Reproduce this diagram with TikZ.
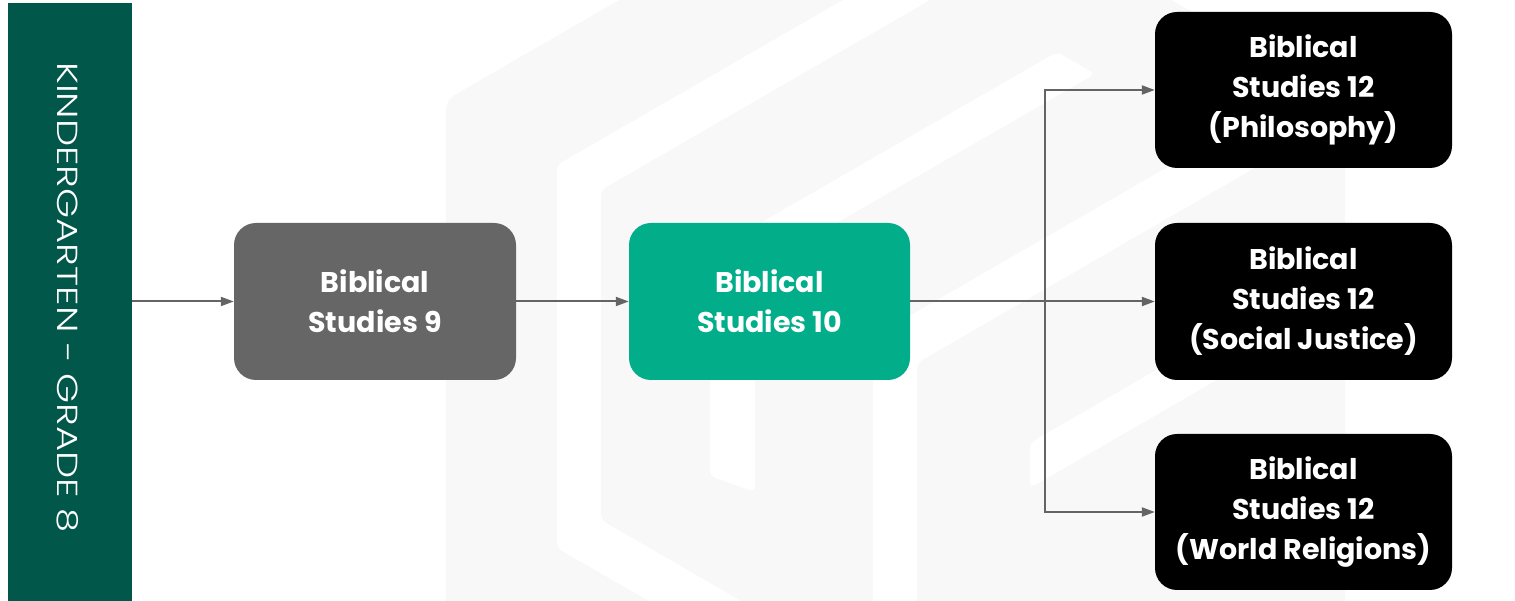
\documentclass[tikz,border=0pt]{standalone}
\usepackage{fontspec}
\setmainfont{Poppins}
\newfontfamily\boxfont{Poppins Bold}
\newfontfamily\lightfont{Poppins Light}
\usetikzlibrary{arrows.meta}
\definecolor{barteal}{RGB}{0,87,74}
\definecolor{boxgreen}{RGB}{2,173,138}
\definecolor{boxgray}{RGB}{102,102,102}
\definecolor{linegray}{RGB}{100,100,100}
\definecolor{wm}{RGB}{248,248,248}
\begin{document}
\begin{tikzpicture}[x=1pt,y=1pt,
  box/.style={rounded corners=22pt, text=white, align=center, minimum height=157pt,
    inner sep=0pt, font=\boxfont\fontsize{28.5}{40}\selectfont},
  arr/.style={draw=linegray, line width=2pt, -{Triangle[length=13pt,width=9pt]}},
  conn/.style={draw=linegray, line width=2pt},
  band/.style={fill=white, rounded corners=6pt}]
\useasboundingbox (0,0) rectangle (1515,601);
\fill[white] (0,0) rectangle (1515,601);
% faint watermark
\begin{scope}
  \clip (0,0) rectangle (1515,601);
  \begin{scope}[shift={(0,601)}, yscale=-1]
    \fill[wm, rounded corners=10pt] (446,700) -- (446,100) -- (895,-159) -- (1345,100) -- (1345,700) -- cycle;
    \begin{scope}
      \clip (446,700) -- (446,100) -- (895,-159) -- (1345,100) -- (1345,700) -- cycle;
      \fill[band] (895,-30) -- (557,165) -- (557,548) -- (701,631) -- (793,631) -- (601,520) -- (601,190) -- (982,-30) -- cycle;
      \fill[band] (710,476) -- (710,252) -- (1057,52) -- (1095,74) -- (755,270) -- (755,492) -- cycle;
      \fill[band] (873,631) -- (873,337) -- (1400,33) -- (1400,84) -- (917,363) -- (917,631) -- cycle;
      \fill[band] (1030,488) -- (1030,443) -- (1400,229) -- (1400,274) -- cycle;
    \end{scope}
  \end{scope}
\end{scope}
% left bar
\node[fill=barteal, rotate=-90, minimum width=598pt, minimum height=124pt, inner sep=0pt] (bar) at (70,299) {};
\node[rotate=-90, xscale=1.33, text=white, inner sep=0pt, font=\lightfont\fontsize{29}{34}\selectfont] (lbl) at (68,303.5) {KINDERGARTEN - GRADE 8};
% boxes
\node[box, fill=boxgray, minimum width=282pt] (b1) at (375,299.5) {Biblical\\Studies 9};
\node[box, fill=boxgreen, minimum width=281pt] (b2) at (769.5,299.5) {Biblical\\Studies 10};
\node[box, fill=black, minimum width=297pt, minimum height=156pt] (bA) at (1303.5,511) {Biblical\\Studies 12\\(Philosophy)};
\node[box, fill=black, minimum width=297pt] (bB) at (1303.5,299.5) {Biblical\\Studies 12\\(Social Justice)};
\node[box, fill=black, minimum width=297pt, minimum height=156pt] (bC) at (1303.5,89) {Biblical\\Studies 12\\(World Religions)};
% connectors
\coordinate (j) at (1044.5,299.5);
\draw[arr] (bar.north |- j) -- (b1.west |- j);
\draw[arr] (b1.east |- j) -- (b2.west |- j);
\draw[conn] (b2.east |- j) -- (j);
\draw[arr] (j) |- (bA.west);
\draw[arr] (j) -- (bB.west);
\draw[arr] (j) |- (bC.west);
\end{tikzpicture}
\end{document}
